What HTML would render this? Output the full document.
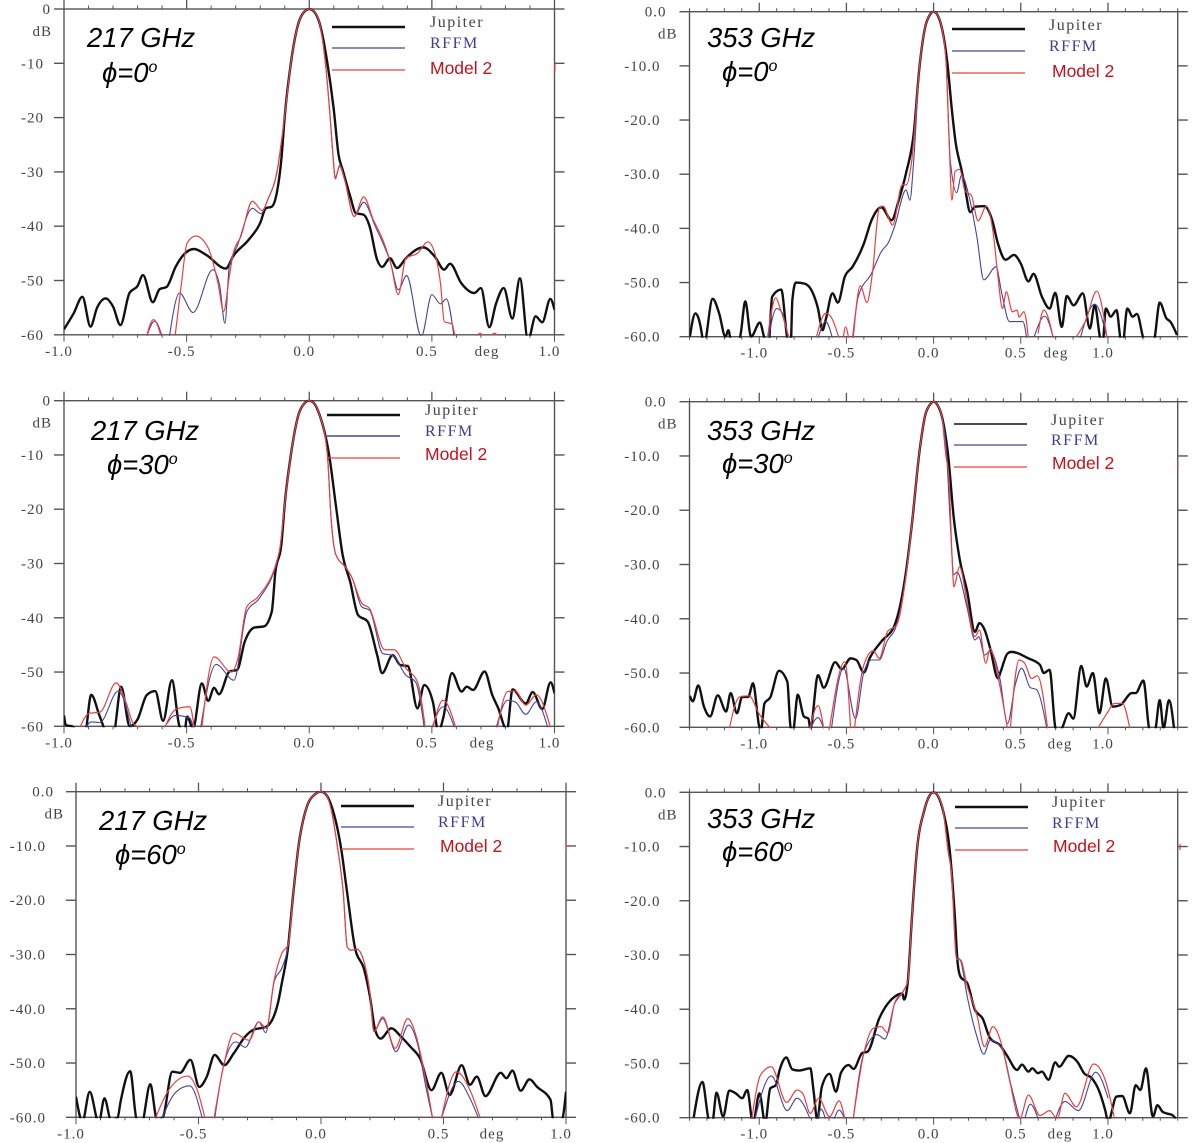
<!DOCTYPE html>
<html lang="en">
<head>
<meta charset="utf-8">
<title>Beam patterns at 217 and 353 GHz</title>
<style>
html,body{margin:0;padding:0;background:#fff;}
#figure{display:block;width:1200px;height:1143px;filter:blur(0.35px);}
.tick-label{font-family:"Liberation Serif",serif;font-size:15px;letter-spacing:1px;fill:#444;}
.leg-serif{font-family:"Liberation Serif",serif;font-size:16px;letter-spacing:1.5px;}
.leg-sans{font-family:"Liberation Sans",sans-serif;font-size:17.5px;fill:#c4121c;}
.title{font-family:"Liberation Sans",sans-serif;font-style:italic;font-size:27.4px;fill:#000;}
</style>
</head>
<body>
<svg id="figure" xmlns="http://www.w3.org/2000/svg" width="1200" height="1143" viewBox="0 0 1200 1143">
<rect x="0" y="0" width="1200" height="1143" fill="#fff"/>
<g id="panels"></g>
<g id="annotations">
  <text class="title" x="87" y="47">217 GHz</text>
  <text class="title" x="102" y="82">ϕ=0<tspan dy="-10" font-size="16">o</tspan></text>
  <text class="title" x="707" y="47">353 GHz</text>
  <text class="title" x="722" y="81">ϕ=0<tspan dy="-10" font-size="16">o</tspan></text>
  <text class="title" x="91" y="440">217 GHz</text>
  <text class="title" x="107" y="474">ϕ=30<tspan dy="-10" font-size="16">o</tspan></text>
  <text class="title" x="707" y="440">353 GHz</text>
  <text class="title" x="722" y="473">ϕ=30<tspan dy="-10" font-size="16">o</tspan></text>
  <text class="title" x="99" y="830">217 GHz</text>
  <text class="title" x="115" y="864">ϕ=60<tspan dy="-10" font-size="16">o</tspan></text>
  <text class="title" x="707" y="828">353 GHz</text>
  <text class="title" x="722" y="861">ϕ=60<tspan dy="-10" font-size="16">o</tspan></text>

  <g>
    <line x1="332" y1="27" x2="405" y2="27" stroke="#111" stroke-width="2.5"/>
    <line x1="332" y1="48" x2="405" y2="48" stroke="#45459a" stroke-width="1.2"/>
    <line x1="332" y1="70" x2="405" y2="70" stroke="#e8403f" stroke-width="1.2"/>
    <text class="leg-serif" x="430" y="27" fill="#444">Jupiter</text>
    <text class="leg-serif" x="430" y="48" fill="#3d3d8f">RFFM</text>
    <text class="leg-sans" x="430" y="74">Model 2</text>
  </g>
  <g>
    <line x1="952" y1="29" x2="1025" y2="29" stroke="#111" stroke-width="2.5"/>
    <line x1="952" y1="51" x2="1025" y2="51" stroke="#45459a" stroke-width="1.2"/>
    <line x1="952" y1="73" x2="1025" y2="73" stroke="#e8403f" stroke-width="1.2"/>
    <text class="leg-serif" x="1049" y="30" fill="#444">Jupiter</text>
    <text class="leg-serif" x="1049" y="51" fill="#3d3d8f">RFFM</text>
    <text class="leg-sans" x="1052" y="77">Model 2</text>
  </g>
  <g>
    <line x1="327" y1="415" x2="400" y2="415" stroke="#111" stroke-width="2.5"/>
    <line x1="327" y1="436" x2="400" y2="436" stroke="#45459a" stroke-width="1.5"/>
    <line x1="327" y1="458" x2="400" y2="458" stroke="#e8403f" stroke-width="1.2"/>
    <text class="leg-serif" x="425" y="415" fill="#444">Jupiter</text>
    <text class="leg-serif" x="425" y="436" fill="#3d3d8f">RFFM</text>
    <text class="leg-sans" x="425" y="460">Model 2</text>
  </g>
  <g>
    <line x1="954" y1="424" x2="1027" y2="424" stroke="#111" stroke-width="1.4"/>
    <line x1="954" y1="445" x2="1027" y2="445" stroke="#45459a" stroke-width="1.2"/>
    <line x1="954" y1="467" x2="1027" y2="467" stroke="#e8403f" stroke-width="1.2"/>
    <text class="leg-serif" x="1051" y="425" fill="#444">Jupiter</text>
    <text class="leg-serif" x="1051" y="445" fill="#3d3d8f">RFFM</text>
    <text class="leg-sans" x="1052" y="469">Model 2</text>
  </g>
  <g>
    <line x1="341" y1="806" x2="414" y2="806" stroke="#111" stroke-width="2.5"/>
    <line x1="341" y1="827" x2="414" y2="827" stroke="#45459a" stroke-width="1.2"/>
    <line x1="341" y1="849" x2="414" y2="849" stroke="#e8403f" stroke-width="1.2"/>
    <text class="leg-serif" x="438" y="806" fill="#444">Jupiter</text>
    <text class="leg-serif" x="438" y="827" fill="#3d3d8f">RFFM</text>
    <text class="leg-sans" x="440" y="852">Model 2</text>
  </g>
  <g>
    <line x1="955" y1="807" x2="1028" y2="807" stroke="#111" stroke-width="2.5"/>
    <line x1="955" y1="828" x2="1028" y2="828" stroke="#45459a" stroke-width="1.2"/>
    <line x1="955" y1="850" x2="1028" y2="850" stroke="#e8403f" stroke-width="1.2"/>
    <text class="leg-serif" x="1052" y="807" fill="#444">Jupiter</text>
    <text class="leg-serif" x="1052" y="828" fill="#3d3d8f">RFFM</text>
    <text class="leg-sans" x="1053" y="852">Model 2</text>
  </g>
  <path d="M555 64v7M1178 462v6M566 844v6M1180 844v6" stroke="#e8403f" stroke-width="1.2" fill="none"/>
</g>
</svg>
<script>
const dbTicks = [0,-10,-20,-30,-40,-50,-60];
const dbLabels217 = ["0","-10","-20","-30","-40","-50","-60"];
const dbLabelsDecimal = ["0.0","-10.0","-20.0","-30.0","-40.0","-50.0","-60.0"];
const xTicks = [-1,-0.5,0,0.5,1];
const xLabels = ["-1.0","-0.5","0.0","0.5","1.0"];

const p1Jupiter = [[-1,-59],[-.96,-56],[-.925,-53],[-.892,-58.5],[-.865,-55],[-.83,-53.3],[-.8,-54.8],[-.77,-58.2],[-.733,-52.3],[-.7,-51],[-.678,-49],[-.638,-54],[-.61,-51.6],[-.582,-51.2],[-.545,-47.5],[-.513,-45.3],[-.47,-44.2],[-.42,-45.3],[-.34,-47.8],[-.31,-45.5],[-.247,-42.5],[-.2,-39.4],[-.177,-36.7],[-.153,-36.4],[-.13,-33.3],[-.114,-27.8],[-.1,-19.8],[-.075,-10],[-.044,-2.6],[-.02,-.5],[0,0],[.02,-.5],[.042,-2.6],[.074,-10],[.1,-18.5],[.12,-27],[.136,-29.6],[.167,-34.5],[.19,-37.6],[.222,-37.9],[.246,-40],[.277,-46.2],[.297,-47.5],[.329,-45.9],[.358,-47.7],[.394,-45.9],[.465,-43.9],[.512,-45.6],[.55,-48],[.574,-46.9],[.62,-50.5],[.673,-52.3],[.7,-51.4],[.734,-58.6],[.762,-54.2],[.793,-51.4],[.828,-57],[.859,-49.6],[.892,-61],[.923,-56.6],[.95,-57.7],[.983,-53.4],[1,-55.4]];
const p1Rffm = [[-.665,-60.6],[-.63,-57.5],[-.598,-60.6],null,[-.571,-60.6],[-.529,-52.3],[-.474,-55.9],[-.393,-48],[-.365,-51],[-.344,-57.9],[-.326,-47.4],[-.294,-43.7],[-.232,-36.7],[-.197,-37.7],[-.169,-35.1],[-.13,-29.6],[-.099,-19.2],[-.075,-10],[-.044,-2.6],[-.02,-.5],[0,0],[.02,-.5],[.042,-2.6],[.066,-10],[.085,-19.8],[.097,-27.1],[.106,-31],[.124,-29],[.144,-31.4],[.183,-38.2],[.222,-35.6],[.269,-40],[.332,-46.8],[.363,-51.7],[.397,-49.1],[.457,-60.3],[.5,-52.6],[.535,-54.3],[.559,-53.4],[.59,-60.3]];
const p1Model2 = [[-.665,-60.6],[-.635,-57.2],[-.602,-60.6],null,[-.548,-60.6],[-.521,-50.5],[-.498,-43.1],[-.463,-41.8],[-.412,-44],[-.372,-50.5],[-.349,-55.7],[-.326,-49.3],[-.31,-45],[-.279,-41.9],[-.232,-35.4],[-.192,-37.1],[-.169,-35.1],[-.13,-29.6],[-.099,-19.2],[-.075,-10],[-.044,-2.6],[-.02,-.5],[0,0],[.02,-.5],[.042,-2.6],[.066,-10],[.085,-19.8],[.097,-27.1],[.106,-31.3],[.124,-28.8],[.144,-31.4],[.183,-38.2],[.222,-34.6],[.261,-38.8],[.3,-42.5],[.332,-46.8],[.363,-52.6],[.394,-45.9],[.441,-45],[.484,-42.9],[.512,-45],[.535,-50.5],[.551,-57.6],[.582,-58],[.595,-60.6],null,[.685,-60.2],[.695,-59.7],[.71,-60.2],null,[.74,-60.2],[.755,-59.7],[.77,-60.2]];

const p2Jupiter = [[-1.398,-60],[-1.366,-55.7],[-1.326,-60.2],[-1.32,-62],[-1.267,-53],[-1.23,-55.7],[-1.194,-60],[-1.177,-58.8],[-1.164,-60.5],[-1.124,-62],[-1.106,-59.4],[-1.08,-53.5],[-1.047,-60],[-.997,-57.4],[-.97,-60.3],[-.948,-62],[-.926,-52.6],[-.874,-51.3],[-.839,-60.3],[-.82,-62],[-.81,-53.2],[-.79,-50],[-.74,-50.2],[-.696,-51.7],[-.663,-54.8],[-.637,-58.8],[-.619,-56.9],[-.58,-52],[-.549,-53.7],[-.509,-48.9],[-.465,-47.1],[-.4,-42.8],[-.356,-38.5],[-.3,-36.1],[-.241,-38.5],[-.2,-34.8],[-.158,-29.8],[-.114,-22.5],[-.081,-10.2],[-.048,-2.8],[-.02,-.5],[0,0],[.02,-.5],[.046,-2.8],[.079,-9.5],[.105,-18.2],[.127,-24.3],[.16,-29.2],[.182,-32.9],[.21,-37],[.237,-36],[.292,-35.9],[.336,-38.5],[.369,-42.8],[.413,-45.8],[.461,-44.9],[.5,-46.5],[.544,-49.8],[.573,-48.4],[.621,-52.6],[.665,-54.8],[.698,-51.9],[.735,-58.2],[.764,-52.5],[.803,-54.2],[.856,-52],[.896,-58.5],[.924,-54.2],[.955,-60.3],[.968,-62],[.988,-54.8],[1.016,-56.3],[1.049,-55.1],[1.071,-60.3],[1.082,-62],[1.111,-54.8],[1.142,-56.3],[1.166,-55.8],[1.203,-60.3],[1.225,-62],[1.258,-62],[1.269,-60],[1.297,-53.7],[1.335,-56.6],[1.357,-57.2],[1.396,-59.7]];
const p2Rffm = [[-.948,-60.3],[-.9,-54.8],[-.872,-55.4],[-.834,-60.3],null,[-.663,-60.3],[-.619,-57.2],[-.58,-60.3],null,[-.465,-60.3],[-.432,-52.6],[-.356,-48.3],[-.3,-44.3],[-.257,-42.5],[-.224,-39.7],[-.158,-32.9],[-.136,-34.8],[-.114,-27.4],[-.081,-10.2],[-.048,-2.8],[-.02,-.5],[0,0],[.02,-.5],[.046,-2.8],[.072,-9.5],[.094,-26.8],[.132,-33.4],[.16,-30.2],[.204,-34.2],[.248,-41.5],[.288,-49.5],[.358,-47.1],[.391,-52],[.435,-57.2],[.512,-57.2],[.534,-60.3],null,[.577,-60],[.637,-56.2],[.687,-60.3],null,[.841,-60.3],[.924,-54],[.995,-60.3]];
const p2Model2 = [[-.953,-60.3],[-.905,-52.8],[-.883,-54.5],[-.828,-60.3],null,[-.674,-60.3],[-.619,-55.7],[-.597,-56],[-.542,-60.3],null,[-.518,-60.3],[-.505,-58.2],[-.487,-60.3],null,[-.461,-60.3],[-.42,-50.6],[-.382,-53.7],[-.351,-48.3],[-.312,-36.3],[-.29,-35.9],[-.235,-39.4],[-.18,-32],[-.158,-32],[-.125,-27.4],[-.081,-10.2],[-.048,-2.8],[-.02,-.5],[0,0],[.02,-.5],[.046,-2.8],[.072,-9.5],[.088,-22.5],[.105,-34.8],[.123,-29.5],[.149,-29.1],[.182,-33.2],[.215,-33.8],[.255,-38.6],[.303,-35.9],[.342,-40.9],[.369,-48.9],[.395,-54.8],[.417,-51.7],[.452,-55.4],[.479,-55.1],[.49,-56.4],[.518,-55.4],[.544,-60.3],null,[.599,-59.4],[.632,-55.1],[.687,-60.3],null,[.819,-60],[.874,-56.9],[.935,-51.6],[.995,-60.3]];

const p3Jupiter = [[-1,-58],[-.992,-59.8],[-.967,-60],[-.917,-62],[-.889,-54.2],[-.854,-58.2],[-.826,-61],[-.798,-61],[-.767,-52.7],[-.732,-60],[-.701,-58.8],[-.662,-54.2],[-.628,-53.5],[-.596,-59],[-.56,-51.5],[-.529,-60],[-.509,-61],[-.498,-58.2],[-.474,-60.4],[-.438,-52.1],[-.412,-55.3],[-.388,-52.9],[-.368,-54.1],[-.325,-49.9],[-.294,-49.6],[-.263,-44.4],[-.224,-41.8],[-.185,-41.6],[-.153,-38.9],[-.138,-31.5],[-.114,-26.6],[-.099,-18.6],[-.075,-10],[-.044,-2.6],[-.02,-.5],[0,0],[.02,-.5],[.042,-2.6],[.081,-10],[.11,-19.8],[.136,-28.4],[.167,-33.4],[.199,-39.5],[.238,-40.7],[.277,-46.9],[.297,-50.2],[.34,-46.9],[.371,-48.7],[.402,-48.9],[.441,-56.7],[.469,-52.4],[.504,-55.5],[.527,-61],[.546,-58.5],[.582,-50.2],[.621,-53.6],[.642,-52.7],[.668,-53.3],[.715,-49.9],[.746,-54.2],[.77,-56.6],[.806,-60.7],[.829,-53.2],[.883,-55.8],[.911,-53.7],[.95,-56.8],[.984,-51.9],[1,-53.9]];
const p3Rffm = [[-.912,-60.3],[-.889,-59.2],[-.854,-59.3],[-.779,-53.5],[-.725,-60.3],null,[-.592,-60.3],[-.545,-58],[-.487,-58.5],[-.472,-60.3],null,[-.443,-60.3],[-.38,-48.6],[-.307,-51.5],[-.255,-38.9],[-.203,-36.4],[-.122,-27.8],[-.099,-18.6],[-.075,-10],[-.044,-2.6],[-.02,-.5],[0,0],[.02,-.5],[.042,-2.6],[.074,-10],[.089,-21.7],[.108,-28.3],[.152,-30.9],[.175,-32.7],[.214,-38],[.246,-38.6],[.3,-46.6],[.34,-46.9],[.394,-50.6],[.433,-51.8],[.469,-60.3],null,[.5,-60.3],[.546,-56.4],[.593,-60.3],null,[.762,-60.3],[.809,-55.2],[.84,-55.5],[.883,-57.8],[.926,-55.5],[.973,-60.3]];
const p3Model2 = [[-.936,-60.3],[-.897,-57.6],[-.854,-57.4],[-.787,-52],[-.748,-55.5],[-.717,-59.5],[-.685,-60.3],null,[-.59,-60.3],[-.541,-56.8],[-.487,-56.4],[-.469,-60.3],null,[-.438,-60.3],[-.388,-47.2],[-.318,-50],[-.291,-47.5],[-.255,-38],[-.208,-36.1],[-.122,-27.8],[-.099,-18.6],[-.075,-10],[-.044,-2.6],[-.02,-.5],[0,0],[.02,-.5],[.042,-2.6],[.074,-10],[.089,-21.7],[.108,-28.3],[.152,-30.9],[.175,-32.7],[.214,-37.3],[.246,-38.3],[.308,-45.9],[.347,-45.9],[.394,-49.3],[.441,-51.8],[.473,-60.3],null,[.504,-60.3],[.546,-55.2],[.598,-60.3],null,[.767,-60.3],[.809,-53.6],[.84,-53.5],[.883,-56.1],[.926,-54.2],[.984,-60.3]];

const p4Jupiter = [[-1.398,-54.2],[-1.381,-55.2],[-1.35,-52.3],[-1.317,-56.2],[-1.282,-58],[-1.238,-54.1],[-1.19,-57.1],[-1.164,-53.7],[-1.128,-57.4],[-1.098,-54.4],[-1.063,-54.4],[-1.036,-51.9],[-.999,-60],[-.99,-60.5],[-.97,-55.6],[-.937,-54.5],[-.887,-49.6],[-.839,-51.6],[-.82,-60],[-.806,-60.5],[-.779,-54],[-.744,-58],[-.718,-58.4],[-.707,-60.2],[-.663,-50.4],[-.63,-52.7],[-.564,-48],[-.527,-49.3],[-.476,-47.3],[-.443,-47.6],[-.4,-49.9],[-.367,-47.3],[-.3,-44.2],[-.224,-41.2],[-.158,-31.3],[-.125,-22.7],[-.081,-9.2],[-.048,-2.5],[-.02,-.5],[0,0],[.02,-.5],[.046,-2.5],[.083,-9.8],[.116,-21.5],[.149,-28.9],[.193,-35],[.237,-42.4],[.263,-40.8],[.292,-42],[.325,-45.5],[.369,-51],[.384,-49.8],[.424,-46.4],[.446,-46.1],[.544,-47.3],[.61,-48.5],[.632,-50],[.665,-49.4],[.698,-60],[.71,-61],[.735,-60.2],[.775,-57.4],[.801,-58.4],[.847,-48.7],[.878,-52.5],[.913,-50],[.951,-57.4],[.988,-51],[1.027,-56.2],[1.071,-55.9],[1.137,-53.7],[1.159,-53.7],[1.203,-51.4],[1.24,-60.5],[1.269,-60.5],[1.297,-55],[1.319,-60.2],[1.35,-55],[1.379,-60.2]];
const p4Rffm = [[-.707,-60.3],[-.663,-58.2],[-.63,-60.3],null,[-.586,-60.3],[-.516,-49.1],[-.448,-58.4],[-.4,-49.8],[-.356,-47.6],[-.312,-47.6],[-.268,-44.2],[-.213,-41.2],[-.158,-32],[-.125,-22.7],[-.081,-9.2],[-.048,-2.5],[-.02,-.5],[0,0],[.02,-.5],[.046,-2.5],[.075,-9.8],[.095,-22],[.116,-31.9],[.134,-31.4],[.193,-38.1],[.237,-43.9],[.259,-43.3],[.292,-46.7],[.325,-46],[.38,-51],[.424,-59.3],[.468,-52.2],[.505,-49.1],[.555,-52.7],[.588,-53],[.65,-60.3]];
const p4Model2 = [[-1.172,-60.3],[-1.113,-54.4],[-1.058,-54.2],[-1.003,-57.4],[-.933,-60.3],null,[-.711,-60.3],[-.663,-56],[-.63,-60.3],null,[-.597,-60.3],[-.509,-47.9],[-.476,-60.3],null,[-.454,-60.3],[-.4,-48.5],[-.345,-45.9],[-.312,-47.3],[-.263,-42.3],[-.213,-41.2],[-.158,-32],[-.125,-22.7],[-.081,-9.2],[-.048,-2.5],[-.02,-.5],[0,0],[.02,-.5],[.046,-2.5],[.07,-9.8],[.088,-14],[.105,-28],[.116,-34.1],[.149,-30.4],[.193,-37.2],[.237,-43.3],[.263,-42.1],[.299,-48.2],[.325,-45.5],[.373,-51.3],[.424,-60.3],null,[.44,-60.3],[.49,-47.6],[.522,-48.2],[.562,-51],[.595,-50.5],[.654,-60.3],null,[.94,-60.3],[.995,-57.4],[1.038,-55.6],[1.082,-55.6],[1.126,-60.3]];

const p5Jupiter = [[-1,-56.2],[-.983,-60],[-.975,-61],[-.944,-55.3],[-.907,-61],[-.884,-56.5],[-.857,-60.5],[-.83,-60],[-.818,-57.1],[-.779,-51.5],[-.752,-60.5],[-.732,-61],[-.697,-53.9],[-.669,-60.5],[-.646,-60],[-.607,-51.6],[-.575,-51.8],[-.533,-49.4],[-.497,-54.4],[-.466,-52.5],[-.434,-48.5],[-.395,-50.4],[-.356,-48.2],[-.309,-45.1],[-.277,-43.9],[-.223,-43.3],[-.176,-39],[-.16,-35.3],[-.136,-29.2],[-.113,-18.7],[-.092,-10.1],[-.058,-2.8],[-.025,-.5],[0,0],[.02,-.5],[.044,-2.8],[.083,-10.7],[.107,-18.7],[.138,-28.6],[.177,-32.9],[.2,-37.8],[.221,-43.9],[.243,-45.5],[.287,-43.6],[.326,-45.1],[.365,-47],[.404,-49.1],[.451,-55],[.491,-51.8],[.525,-55.9],[.574,-50.4],[.608,-54],[.636,-52.5],[.671,-56.1],[.734,-51.8],[.757,-52.8],[.781,-51.4],[.815,-55.1],[.851,-53],[.882,-54.4],[.937,-56.8],[.948,-60.5],[.969,-61],[.984,-60.5],[1,-55.3]];
const p5Rffm = [[-.65,-60.3],[-.591,-55.3],[-.536,-54.2],[-.484,-60.3],null,[-.434,-60.3],[-.395,-50],[-.348,-46.1],[-.309,-47.1],[-.254,-42.4],[-.226,-44.4],[-.191,-35],[-.157,-32.2],[-.133,-28],[-.113,-18.7],[-.092,-10.1],[-.058,-2.8],[-.025,-.5],[0,0],[.02,-.5],[.039,-2.8],[.067,-10.1],[.091,-18.7],[.107,-28.6],[.122,-29.2],[.146,-29],[.177,-31.6],[.2,-37.2],[.216,-44.2],[.252,-41.8],[.306,-47.9],[.357,-43],[.397,-47],[.428,-54.4],[.456,-60.3],null,[.491,-60.3],[.561,-53.4],[.608,-56.5],[.644,-60.3]];
const p5Model2 = [[-.677,-60.3],[-.622,-55],[-.544,-52.4],[-.505,-55],[-.473,-60.3],null,[-.437,-60.3],[-.395,-50],[-.356,-44.5],[-.293,-45.8],[-.254,-42.4],[-.223,-43.6],[-.191,-34.7],[-.16,-29.8],[-.133,-28],[-.113,-18.7],[-.092,-10.1],[-.058,-2.8],[-.025,-.5],[0,0],[.02,-.5],[.039,-2.8],[.067,-10.1],[.091,-18.7],[.107,-28.6],[.122,-29.2],[.146,-29],[.177,-31.6],[.2,-37.2],[.216,-44.2],[.252,-41.5],[.303,-47.3],[.354,-41.8],[.389,-45.1],[.42,-51.3],[.456,-60.3],null,[.491,-60.3],[.553,-51.6],[.608,-55],[.651,-60.3]];

const p6Jupiter = [[-1.376,-60],[-1.326,-53.4],[-1.289,-60.4],[-1.27,-61],[-1.245,-55.4],[-1.207,-59.8],[-1.172,-55],[-1.135,-55.5],[-1.098,-56.4],[-1.069,-54.9],[-1.036,-61],[-.999,-55.5],[-.966,-61],[-.937,-54.6],[-.905,-54],[-.883,-51.2],[-.845,-48.9],[-.81,-51.1],[-.773,-51.3],[-.707,-50.9],[-.689,-54.9],[-.667,-60.4],[-.641,-54.3],[-.597,-51.9],[-.56,-55.2],[-.531,-51.7],[-.487,-50.3],[-.459,-51],[-.41,-48.1],[-.378,-47.8],[-.312,-41.7],[-.224,-37.7],[-.18,-37.1],[-.169,-38.2],[-.147,-34.6],[-.125,-23.5],[-.095,-10.5],[-.055,-3.5],[-.025,-.7],[0,0],[.025,-.7],[.055,-3.5],[.094,-11.2],[.123,-23.5],[.138,-31.5],[.154,-34],[.193,-35.2],[.237,-40.1],[.281,-41.7],[.325,-45.4],[.38,-46.6],[.424,-48.7],[.479,-51.2],[.507,-50.2],[.544,-51.5],[.566,-50.9],[.599,-51.8],[.621,-51.5],[.659,-53],[.698,-49.8],[.72,-50.6],[.775,-48.6],[.825,-49.7],[.863,-51.8],[.907,-52.7],[.951,-55.2],[.984,-58.6],[1.001,-60.7],[1.049,-56.1],[1.082,-56],[1.126,-59.2],[1.159,-54],[1.186,-54.9],[1.218,-50.9],[1.258,-59.8],[1.284,-57.7],[1.313,-58.9],[1.335,-59.2],[1.368,-59.5],[1.39,-60.2]];
const p6Rffm = [[-1.025,-60.3],[-.931,-52.3],[-.839,-58.7],[-.784,-56.4],[-.707,-60.3],null,[-.665,-60.3],[-.645,-58.4],[-.62,-60.3],null,[-.571,-60.3],[-.542,-58.6],[-.509,-60.3],null,[-.461,-60.3],[-.4,-48.1],[-.323,-44.7],[-.279,-45.5],[-.224,-39],[-.18,-37],[-.147,-34.6],[-.125,-23.5],[-.095,-10.5],[-.055,-3.5],[-.025,-.7],[0,0],[.025,-.7],[.055,-3.5],[.085,-11.2],[.101,-14.3],[.132,-30.3],[.154,-31],[.193,-37.7],[.248,-45],[.288,-48.3],[.325,-45.7],[.391,-47.2],[.446,-54.3],[.494,-60.3],null,[.525,-60],[.555,-57.5],[.6,-60.3],null,[.698,-60.3],[.753,-57],[.83,-58.7],[.929,-51.6],[1.001,-56.4]];
const p6Model2 = [[-1.043,-60.3],[-.992,-52.1],[-.931,-50.6],[-.843,-57.2],[-.784,-54.9],[-.751,-55.5],[-.707,-59.2],[-.659,-56.4],[-.597,-59.8],[-.542,-56.9],[-.509,-60.3],null,[-.461,-60.3],[-.4,-48.1],[-.345,-43.5],[-.301,-43.2],[-.263,-44.4],[-.224,-38.9],[-.169,-36.4],[-.147,-34.6],[-.125,-23.5],[-.095,-10.5],[-.055,-3.5],[-.025,-.7],[0,0],[.025,-.7],[.055,-3.5],[.085,-11.2],[.101,-14.3],[.132,-30.8],[.154,-30.9],[.193,-35.8],[.248,-41],[.292,-46.9],[.34,-43.2],[.391,-46.6],[.435,-53],[.494,-60.2],[.544,-55.8],[.61,-59.6],[.665,-58.7],[.709,-60.2],[.753,-55.5],[.819,-58],[.918,-50.1],[.984,-53],[1.038,-60.3]];

const SVG_NS = "http://www.w3.org/2000/svg";
const AXIS_COLOR = "#555";

function make(tag, attrs, parent) {
  const el = document.createElementNS(SVG_NS, tag);
  for (const k in attrs) el.setAttribute(k, attrs[k]);
  parent.appendChild(el);
  return el;
}

function smoothPath(pts) {
  const n = pts.length;
  if (n < 2) return "";
  const slopes = [];
  for (let i = 0; i < n - 1; i++) {
    const h = pts[i + 1][0] - pts[i][0];
    slopes.push(h === 0 ? 0 : (pts[i + 1][1] - pts[i][1]) / h);
  }
  const tangents = new Array(n).fill(0);
  for (let i = 1; i < n - 1; i++) {
    const h0 = pts[i][0] - pts[i - 1][0];
    const h1 = pts[i + 1][0] - pts[i][0];
    const s0 = slopes[i - 1], s1 = slopes[i];
    const p = (s0 * h1 + s1 * h0) / (h0 + h1 || 1);
    tangents[i] = (Math.sign(s0) + Math.sign(s1)) * Math.min(Math.abs(s0), Math.abs(s1), 0.5 * Math.abs(p));
  }
  tangents[0] = n > 2 ? (3 * slopes[0] - tangents[1]) / 2 : slopes[0];
  tangents[n - 1] = n > 2 ? (3 * slopes[n - 2] - tangents[n - 2]) / 2 : slopes[n - 2];
  const d = ["M" + pts[0][0].toFixed(2) + " " + pts[0][1].toFixed(2)];
  for (let i = 1; i < n; i++) {
    const a = pts[i - 1], b = pts[i];
    const h = (b[0] - a[0]) / 3;
    d.push("C" + (a[0] + h).toFixed(2) + " " + (a[1] + tangents[i - 1] * h).toFixed(2) + " " + (b[0] - h).toFixed(2) + " " + (b[1] - tangents[i] * h).toFixed(2) + " " + b[0].toFixed(2) + " " + b[1].toFixed(2));
  }
  return d.join("");
}

function drawPanel(cfg) {
  const root = document.getElementById("panels");
  const g = make("g", {}, root);
  
  
  const xScale = v => cfg.left + (v + cfg.range) / (2 * cfg.range) * (cfg.right - cfg.left);
  const yScale = v => cfg.top + (-v / 60) * (cfg.bottom - cfg.top);

  const clipId = cfg.name + "-clip";
  const defs = make("defs", {}, g);
  const clip = make("clipPath", { id: clipId }, defs);
  make("rect", { x: cfg.left, y: cfg.top - 1, width: cfg.right - cfg.left, height: cfg.bottom - cfg.top + 2 }, clip);

  const frame = make("rect", { x: cfg.left, y: cfg.top, width: cfg.right - cfg.left, height: cfg.bottom - cfg.top, fill: "none", stroke: AXIS_COLOR, "stroke-width": 1.4 }, g);
  
  

  const steps = Math.round(cfg.range * 10);
  for (let i = -steps; i <= steps; i++) {
    const v = i / 10;
    const major = i % 5 === 0;
    const topTick = make("line", { x1: xScale(v), x2: xScale(v), y1: cfg.top, y2: cfg.top - (major ? 9 : 3.5), stroke: AXIS_COLOR, "stroke-width": major ? 1.3 : 1 }, g);
    
    
    const bottomTick = make("line", { x1: xScale(v), x2: xScale(v), y1: cfg.bottom, y2: cfg.bottom + (major ? 7 : 3), stroke: AXIS_COLOR, "stroke-width": 1 }, g);
    
    
  }

  dbTicks.forEach((v, i) => {
    const y = yScale(v);
    const lt = make("line", { x1: cfg.left - 10, x2: cfg.left, y1: y, y2: y, stroke: AXIS_COLOR, "stroke-width": 1.4 }, g);
    
    
    const rt = make("line", { x1: cfg.right, x2: cfg.right + 10, y1: y, y2: y, stroke: AXIS_COLOR, "stroke-width": 1.4 }, g);
    
    
    const lab = make("text", { class: "tick-label", "text-anchor": "end", x: cfg.left - (v === 0 ? cfg.zeroGap : cfg.labelGap), y: y + 5 }, g);
    lab.textContent = cfg.dbLabels[i];
    
    
  });

  const unit = make("text", { class: "tick-label", "text-anchor": "end", x: cfg.left - 12, y: cfg.top + 27 }, g);
  unit.textContent = "dB";
  
  

  xTicks.forEach((v, i) => {
    const lab = make("text", { class: "tick-label", "text-anchor": "middle", x: xScale(v) - 5, y: cfg.bottom + 21 }, g);
    lab.textContent = xLabels[i];
    
    
  });
  const deg = make("text", { class: "tick-label", "text-anchor": "middle", x: cfg.degX, y: cfg.bottom + 21 }, g);
  deg.textContent = "deg";
  
  

  const series = [
    { values: cfg.jupiter, color: "#111", width: cfg.jupiterWidth || 2.4, label: "jupiter-curve" },
    { values: cfg.rffm, color: "#45459a", width: 1.1, label: "rffm-curve" },
    { values: cfg.model2, color: "#e8403f", width: 1.2, label: "model-2-curve" }
  ];
  const plot = make("g", { "clip-path": "url(#" + clipId + ")" }, g);
  series.forEach(s => {
    let segment = [];
    const parts = [];
    s.values.forEach(p => {
      if (p === null) { parts.push(segment); segment = []; }
      else segment.push([xScale(p[0]), yScale(p[1])]);
    });
    parts.push(segment);
    const path = make("path", { d: parts.map(smoothPath).join(""), fill: "none", stroke: s.color, "stroke-width": s.width, "stroke-linejoin": "round" }, plot);
    
    
  });
}

drawPanel({ name: "panel-217-phi-0", left: 64, right: 554.5, top: 9, bottom: 334.8, range: 1, dbLabels: dbLabels217, labelGap: 20, zeroGap: 13, degX: 487, jupiter: p1Jupiter, rffm: p1Rffm, model2: p1Model2 });
drawPanel({ name: "panel-353-phi-0", left: 689.5, right: 1177.7, top: 11.7, bottom: 336.7, range: 1.4, dbLabels: dbLabelsDecimal, labelGap: 29, zeroGap: 23, degX: 1056, jupiter: p2Jupiter, rffm: p2Rffm, model2: p2Model2 });
drawPanel({ name: "panel-217-phi-30", left: 64, right: 554.5, top: 400.7, bottom: 726.3, range: 1, dbLabels: dbLabels217, labelGap: 20, zeroGap: 13, degX: 482, jupiter: p3Jupiter, rffm: p3Rffm, model2: p3Model2 });
drawPanel({ name: "panel-353-phi-30", left: 689.5, right: 1177.7, top: 401.7, bottom: 727.3, range: 1.4, dbLabels: dbLabelsDecimal, labelGap: 29, zeroGap: 23, degX: 1060, jupiter: p4Jupiter, rffm: p4Rffm, model2: p4Model2 });
drawPanel({ name: "panel-217-phi-60", left: 76, right: 566, top: 791.7, bottom: 1117.3, range: 1, dbLabels: dbLabelsDecimal, labelGap: 30, zeroGap: 22, degX: 492, jupiter: p5Jupiter, rffm: p5Rffm, model2: p5Model2 });
drawPanel({ name: "panel-353-phi-60", left: 689.5, right: 1177.7, top: 792.3, bottom: 1117.7, range: 1.4, dbLabels: dbLabelsDecimal, labelGap: 29, zeroGap: 23, degX: 1060, jupiter: p6Jupiter, rffm: p6Rffm, model2: p6Model2 });
</script>
</body>
</html>
